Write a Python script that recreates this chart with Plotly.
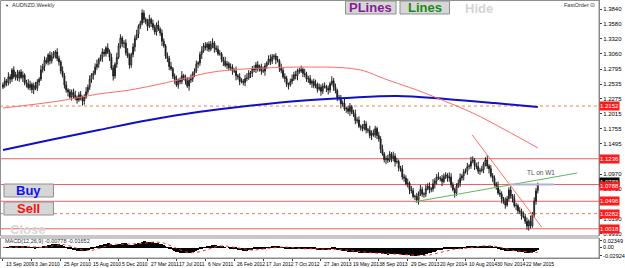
import numpy as np
import pandas as pd
import plotly.graph_objects as go

# ---------------- data ----------------
SYMBOL = "AUDNZD,Weekly"
OPEN0_PIPS = 12480
CLOSE_PIPS = [
    12518, 12590, 12560, 12660, 12620, 12779, 12660, 12700, 12640, 12744,
    12650, 12690, 12560, 12540, 12470, 12530, 12440, 12510, 12460, 12570,
    12620, 12780, 12840, 12950, 12910, 13040, 12940, 13010, 13060, 13092,
    12980, 12918, 12760, 12680, 12520, 12431, 12400, 12310, 12390, 12340,
    12300, 12257, 12350, 12300, 12240, 12310, 12400, 12480, 12620, 12692,
    12720, 12830, 12880, 12960, 13000, 13092, 13060, 13162, 13090, 13000,
    12814, 12675, 12880, 13000, 13200, 13336, 13240, 13250, 13080, 13020,
    12866, 13050, 13180, 13330, 13400, 13540, 13590, 13770, 13660, 13620,
    13540, 13660, 13590, 13520, 13440, 13560, 13490, 13420, 13280, 13200,
    13020, 12980, 12840, 12800, 12670, 12620, 12518, 12600, 12580, 12680,
    12650, 12590, 12500, 12600, 12620, 12720, 12760, 12880, 12900, 13050,
    13110, 13200, 13170, 13230, 13140, 13220, 13249, 13160, 13140, 13060,
    13060, 12960, 12930, 12860, 12890, 12820, 12830, 12760, 12760, 12680,
    12660, 12580, 12590, 12560, 12630, 12640, 12730, 12720, 12800, 12790,
    12870, 12800, 12840, 12760, 12760, 12850, 12900, 12970, 12930, 13010,
    13023, 12960, 12940, 12810, 12770, 12660, 12630, 12530, 12520, 12580,
    12620, 12700, 12680, 12770, 12760, 12790, 12720, 12700, 12620, 12630,
    12550, 12580, 12510, 12530, 12450, 12480, 12410, 12500, 12490, 12460,
    12431, 12540, 12590, 12480, 12420, 12300, 12280, 12190, 12200, 12100,
    12110, 12060, 12140, 12040, 12010, 11900, 11910, 11800, 11790, 11760,
    11840, 11740, 11730, 11640, 11680, 11650, 11760, 11640, 11580, 11400,
    11320, 11220, 11240, 11210, 11320, 11240, 11280, 11180, 11190, 11080,
    11060, 10920, 10900, 10800, 10810, 10700, 10680, 10580, 10580, 10518,
    10620, 10700, 10620, 10620, 10720, 10760, 10700, 10710, 10800, 10850,
    10920, 10900, 10890, 10840, 10930, 10953, 10900, 10920, 10780, 10700,
    10640, 10760, 10810, 10900, 10940, 11010, 11020, 11100, 11110, 11190,
    11214, 11120, 11100, 11020, 11030, 11050, 11150, 11214, 11110, 11060,
    10940, 10900, 10800, 10760, 10640, 10620, 10540, 10500, 10431, 10540,
    10692, 10590, 10540, 10420, 10420, 10330, 10320, 10240, 10230, 10150,
    10066, 10150, 10070, 10260, 10500, 10680, 10788,
]
# upper / lower shadow beyond the body, in units of WICK_UNIT
WICK_UNIT = 0.0016
WICK_UP = [
    3,4,2,5,3,2,4,3,5,2,3,4,2,3,5,4,2,3,4,3,
    2,5,3,4,3,2,4,5,3,2,4,3,2,5,3,4,2,3,3,4,
    5,2,3,4,2,3,5,3,4,2,3,4,5,2,3,4,3,2,5,3,
    4,3,2,5,3,4,2,3,4,5,3,2,4,3,5,2,3,4,3,2,
    3,5,2,4,3,3,5,2,4,3,2,4,3,5,2,3,4,2,3,5,
    2,3,4,3,5,2,3,4,2,3,5,3,4,2,3,4,5,2,3,4,
    4,2,3,5,3,2,4,3,3,5,2,4,3,2,4,5,3,2,3,4,
    3,4,2,3,5,3,2,4,5,3,2,3,4,2,5,3,4,3,2,3,
    5,3,4,2,3,4,2,5,3,3,4,2,3,5,2,4,3,3,4,2,
    3,2,5,3,4,2,3,4,3,5,2,3,4,2,3,5,3,4,2,3,
    4,3,2,5,3,4,3,2,4,3,5,2,3,4,3,2,5,3,4,2,
    2,4,3,3,5,2,4,3,2,4,3,5,3,2,4,3,4,2,5,3,
    3,5,2,4,3,3,2,5,4,3,2,3,4,5,2,3,3,4,2,5,
    4,2,3,5,3,4,2,3,5,2,4,3,3,2,5,4,3,2,4,3,
    3,4,2,5,3,2,4,3,5,3,4,2,6,3,4,3,2,
]
WICK_DN = [
    2,3,4,3,5,3,2,4,3,4,2,5,3,4,2,3,4,5,2,3,
    4,2,3,5,2,3,4,3,2,5,3,4,3,2,4,3,5,2,4,3,
    3,4,2,3,5,4,2,3,3,4,5,2,3,4,2,5,3,3,2,4,
    2,5,3,4,2,3,4,5,3,2,4,3,3,5,2,4,3,2,4,3,
    5,2,4,3,3,4,2,3,5,2,3,4,4,2,3,5,2,4,3,3,
    3,4,2,5,3,3,4,2,4,3,5,2,3,4,3,2,4,5,3,2,
    2,3,5,2,4,3,3,4,2,5,3,4,2,3,4,3,2,5,4,3,
    4,3,3,4,2,5,3,2,4,3,3,5,2,4,3,2,4,3,5,2,
    3,2,4,5,3,2,4,3,3,4,2,5,3,3,4,2,5,3,2,4,
    5,3,2,4,3,4,2,5,3,2,4,3,5,2,3,4,3,2,4,3,
    2,4,3,3,5,2,3,4,3,4,2,3,5,3,2,4,3,5,2,4,
    3,3,4,2,4,5,3,2,4,3,5,2,3,4,3,2,4,3,3,5,
    4,2,3,5,2,3,4,4,3,2,5,3,2,4,3,5,2,4,3,3,
    2,5,3,3,4,2,4,3,3,5,2,4,3,4,2,3,5,3,4,2,
    3,3,4,2,5,3,3,4,2,3,4,5,3,2,3,4,3,
]

DATE_LABEL_IDX = list(range(0, 289, 16))
DATE_LABELS = ["13 Sep 2009", "3 Jan 2010", "25 Apr 2010", "15 Aug 2010", "5 Dec 2010",
               "27 Mar 2011", "17 Jul 2011", "6 Nov 2011", "26 Feb 2012", "17 Jun 2012",
               "7 Oct 2012", "27 Jan 2013", "19 May 2013", "8 Sep 2013", "29 Dec 2013",
               "20 Apr 2014", "10 Aug 2014", "30 Nov 2014", "22 Mar 2015"]

PRICE_TICKS = [1.3840, 1.3580, 1.3320, 1.3060, 1.2795, 1.2535, 1.2275, 1.2015,
               1.1755, 1.1495, 1.0970, 1.0710, 1.0190, 0.9930]
PRICE_TICK_TEXT = ["1.3840", "1.3580", "1.3320", "1.3060", "1.2795", "1.2535", "1.2275",
                   "1.2015", "1.1755", "1.1495", "1.0970", "1.0710", "1.0190", "0.9930"]

LEVELS_SOLID = [1.1236, 1.0496, 1.0018, 1.0788]
LEVELS_DOTTED = [1.2152, 1.0282]

RED_MA_IDX = [0, 31, 53, 70, 97, 113, 126, 145, 168, 190, 200, 210, 221, 229, 243, 260, 278, 296]
RED_MA_VAL = [1.2118, 1.2240, 1.2362, 1.2431, 1.2605, 1.2727, 1.2779, 1.2814, 1.2831,
              1.2814, 1.2762, 1.2640, 1.2518, 1.2431, 1.2257, 1.2031, 1.1736, 1.1423]
BLUE_MA_IDX = [0, 26, 53, 81, 108, 135, 163, 190, 218, 245, 272, 296]
BLUE_MA_VAL = [1.1388, 1.1562, 1.1736, 1.1910, 1.2049, 1.2153, 1.2240, 1.2292,
               1.2327, 1.2275, 1.2205, 1.2136]

GREEN_TL_IDX = [227.4, 317.8]
GREEN_TL_VAL = [1.0484, 1.0988]
RED_TL_IDX = [259.7, 298.1]
RED_TL_VAL = [1.1649, 1.0049]
GRAY_SEG_IDX = [280.5, 305.0]
GRAY_SEG_VAL = [1.0788, 1.0788]

MACD_TICKS = [0.02349, 0.0, -0.02924]
MACD_TICK_TEXT = ["0.02349", "0.00", "-0.02924"]
MACD_TITLE = "MACD(12,26,9) -0.00778 -0.01652"

# ---------------- derived ----------------
close = np.array(CLOSE_PIPS) / 10000.0
opn = np.concatenate([[OPEN0_PIPS / 10000.0], close[:-1]])
high = np.maximum(opn, close) + np.array(WICK_UP) * WICK_UNIT
low = np.minimum(opn, close) - np.array(WICK_DN) * WICK_UNIT
idx = np.arange(len(close))


def ema(a, n):
    k = 2.0 / (n + 1)
    out = np.empty_like(a)
    out[0] = a[0]
    for i in range(1, len(a)):
        out[i] = a[i] * k + out[i - 1] * (1 - k)
    return out


macd = ema(close, 12) - ema(close, 26)
signal = pd.Series(macd).rolling(9, min_periods=1).mean().values

# ---------------- layout geometry (pixels) ----------------
W, H = 625, 268
PR = 605   # right edge of plot area
PB = 258   # bottom of plot area
MAIN_BOTTOM = 236
SUB_TOP = 238


def px(x):
    return x / PR


def py(y):
    return (PB - y) / PB


X_RANGE = [-3 / 1.825, (PR - 3) / 1.825]
Y_RANGE = [1.3840 - 227 / 575, 1.3840 + 9 / 575]
MACD_RANGE = [-0.0362, 0.0328]

FONT = "Liberation Sans"
fig = go.Figure()

fig.add_trace(go.Scatter(x=BLUE_MA_IDX, y=BLUE_MA_VAL, mode="lines",
                         line=dict(color="#1010c8", width=2, shape="spline"),
                         hoverinfo="skip", xaxis="x", yaxis="y"))
fig.add_trace(go.Scatter(x=RED_MA_IDX, y=RED_MA_VAL, mode="lines",
                         line=dict(color="#ff6a6a", width=1, shape="spline"),
                         hoverinfo="skip", xaxis="x", yaxis="y"))
fig.add_trace(go.Candlestick(x=idx, open=opn, high=high, low=low, close=close,
                             increasing=dict(line=dict(color="#202020", width=1), fillcolor="white"),
                             decreasing=dict(line=dict(color="#202020", width=1), fillcolor="black"),
                             whiskerwidth=0, xaxis="x", yaxis="y", hoverinfo="skip"))
fig.add_trace(go.Scatter(x=GREEN_TL_IDX, y=GREEN_TL_VAL, mode="lines",
                         line=dict(color="#5cb85c", width=1), xaxis="x", yaxis="y"))
fig.add_trace(go.Scatter(x=RED_TL_IDX, y=RED_TL_VAL, mode="lines",
                         line=dict(color="#ff7060", width=1), xaxis="x", yaxis="y"))
fig.add_trace(go.Scatter(x=GRAY_SEG_IDX, y=GRAY_SEG_VAL, mode="lines",
                         line=dict(color="#b8b0d0", width=2), xaxis="x", yaxis="y"))

fig.add_trace(go.Bar(x=idx, y=macd, marker=dict(color="black", line=dict(width=0)),
                     width=0.8, xaxis="x2", yaxis="y2"))
fig.add_trace(go.Scatter(x=idx, y=signal, mode="lines",
                         line=dict(color="#ff3030", width=1, dash="dot"), xaxis="x2", yaxis="y2"))

shapes = []
for lv in LEVELS_SOLID:
    shapes.append(dict(type="line", xref="x domain", yref="y", x0=0, x1=1, y0=lv, y1=lv,
                       line=dict(color="#f06060", width=1), layer="below"))
for lv in LEVELS_DOTTED:
    shapes.append(dict(type="line", xref="x domain", yref="y", x0=0, x1=1, y0=lv, y1=lv,
                       line=dict(color="#e8845c", width=1, dash="dot"), layer="below"))

# window frames
shapes.append(dict(type="rect", xref="paper", yref="paper", x0=px(0.5), x1=px(PR),
                   y0=py(MAIN_BOTTOM), y1=py(0.5), line=dict(color="#909090", width=1)))
shapes.append(dict(type="rect", xref="paper", yref="paper", x0=px(0.5), x1=px(PR),
                   y0=py(PB), y1=py(SUB_TOP), line=dict(color="#909090", width=1)))


def button(x0, y0, x1, y1):
    shapes.append(dict(type="rect", xref="paper", yref="paper", x0=px(x0), x1=px(x1),
                       y0=py(y1), y1=py(y0), fillcolor="#d6d6d6",
                       line=dict(color="#909090", width=1)))


button(349, 1, 400, 14)
button(404, 1, 454, 14)
button(4, 184, 54, 197)
button(4, 202, 54, 215)

ann = []


def text(x, y, s, size=6, color="black", anchor="left", bold=False):
    ann.append(dict(xref="paper", yref="paper", x=px(x), y=py(y), text=("<b>%s</b>" % s) if bold else s,
                    showarrow=False, xanchor=anchor, yanchor="middle",
                    font=dict(family=FONT, size=size, color=color)))


text(374.5, 7.5, "PLines", 13, "#8a1a9a", "center", True)
text(429, 7.5, "Lines", 13, "#1a8a1a", "center", True)
text(484, 8, "Hide", 13, "#d4d4d4", "center", True)
text(29, 190.5, "Buy", 13, "#1010ff", "center", True)
text(29, 208.5, "Sell", 13, "#ff1010", "center", True)
text(28, 229, "Close", 13, "#d8d8d8", "center", True)
text(3, 5, "▼", 4, "#303030")
text(10, 5, SYMBOL, 5.5, "#303030")
text(603, 5, "FastOrder ⊙", 5.5, "#303030", "right")
text(530, 172, "TL on W1", 6.5, "#505050")
text(3, 241, MACD_TITLE, 5.5, "#303030")

# current bid box (black) and level boxes (red) on the price axis
ann.append(dict(xref="paper", yref="y", x=1, y=close[-1], yshift=2, text="%.4f" % close[-1],
                showarrow=False, xanchor="left", yanchor="middle", bgcolor="black", width=19,
                height=8, borderpad=0, font=dict(family=FONT, size=6, color="white")))
for lv in LEVELS_SOLID + LEVELS_DOTTED:
    ann.append(dict(xref="paper", yref="y", x=1, y=lv, text="%.4f" % lv, showarrow=False,
                    xanchor="left", yanchor="middle", bgcolor="#ff1a1a", width=19, height=8,
                    borderpad=0, font=dict(family=FONT, size=6, color="white"),
                    yshift=-2 if abs(lv - close[-1]) < 1e-6 else 0))

# date labels along the bottom
for i, lab in zip(DATE_LABEL_IDX, DATE_LABELS):
    ann.append(dict(xref="x2", yref="paper", x=i, y=py(263.5), text=lab, showarrow=False,
                    xanchor="left", yanchor="middle", xshift=1,
                    font=dict(family=FONT, size=5, color="black")))

fig.update_layout(
    width=W, height=H, margin=dict(l=0, r=W - PR, t=0, b=H - PB),
    paper_bgcolor="white", plot_bgcolor="white", showlegend=False,
    xaxis=dict(domain=[0, 1], range=X_RANGE, anchor="y", showticklabels=False, showgrid=False,
               zeroline=False, rangeslider=dict(visible=False), fixedrange=True),
    yaxis=dict(domain=[(PB - MAIN_BOTTOM) / PB, 1], range=Y_RANGE, side="right", anchor="x",
               tickvals=PRICE_TICKS, ticktext=PRICE_TICK_TEXT, ticks="outside", ticklen=2,
               tickcolor="#404040", tickfont=dict(family=FONT, size=6, color="black"),
               showgrid=False, zeroline=False, showline=True, linecolor="#808080"),
    xaxis2=dict(domain=[0, 1], range=X_RANGE, anchor="y2", tickvals=DATE_LABEL_IDX,
                showticklabels=False, ticks="outside", ticklen=2, tickcolor="#404040",
                showgrid=False, zeroline=False, showline=True, linecolor="#808080"),
    yaxis2=dict(domain=[0, (PB - SUB_TOP) / PB], range=MACD_RANGE, side="right", anchor="x2",
                tickvals=MACD_TICKS, ticktext=MACD_TICK_TEXT, ticks="outside", ticklen=2,
                tickcolor="#404040", tickfont=dict(family=FONT, size=5.5, color="black"),
                showgrid=False, zeroline=False, showline=True, linecolor="#808080"),
    shapes=shapes, annotations=ann, bargap=0,
)

fig.write_html("out.html")
